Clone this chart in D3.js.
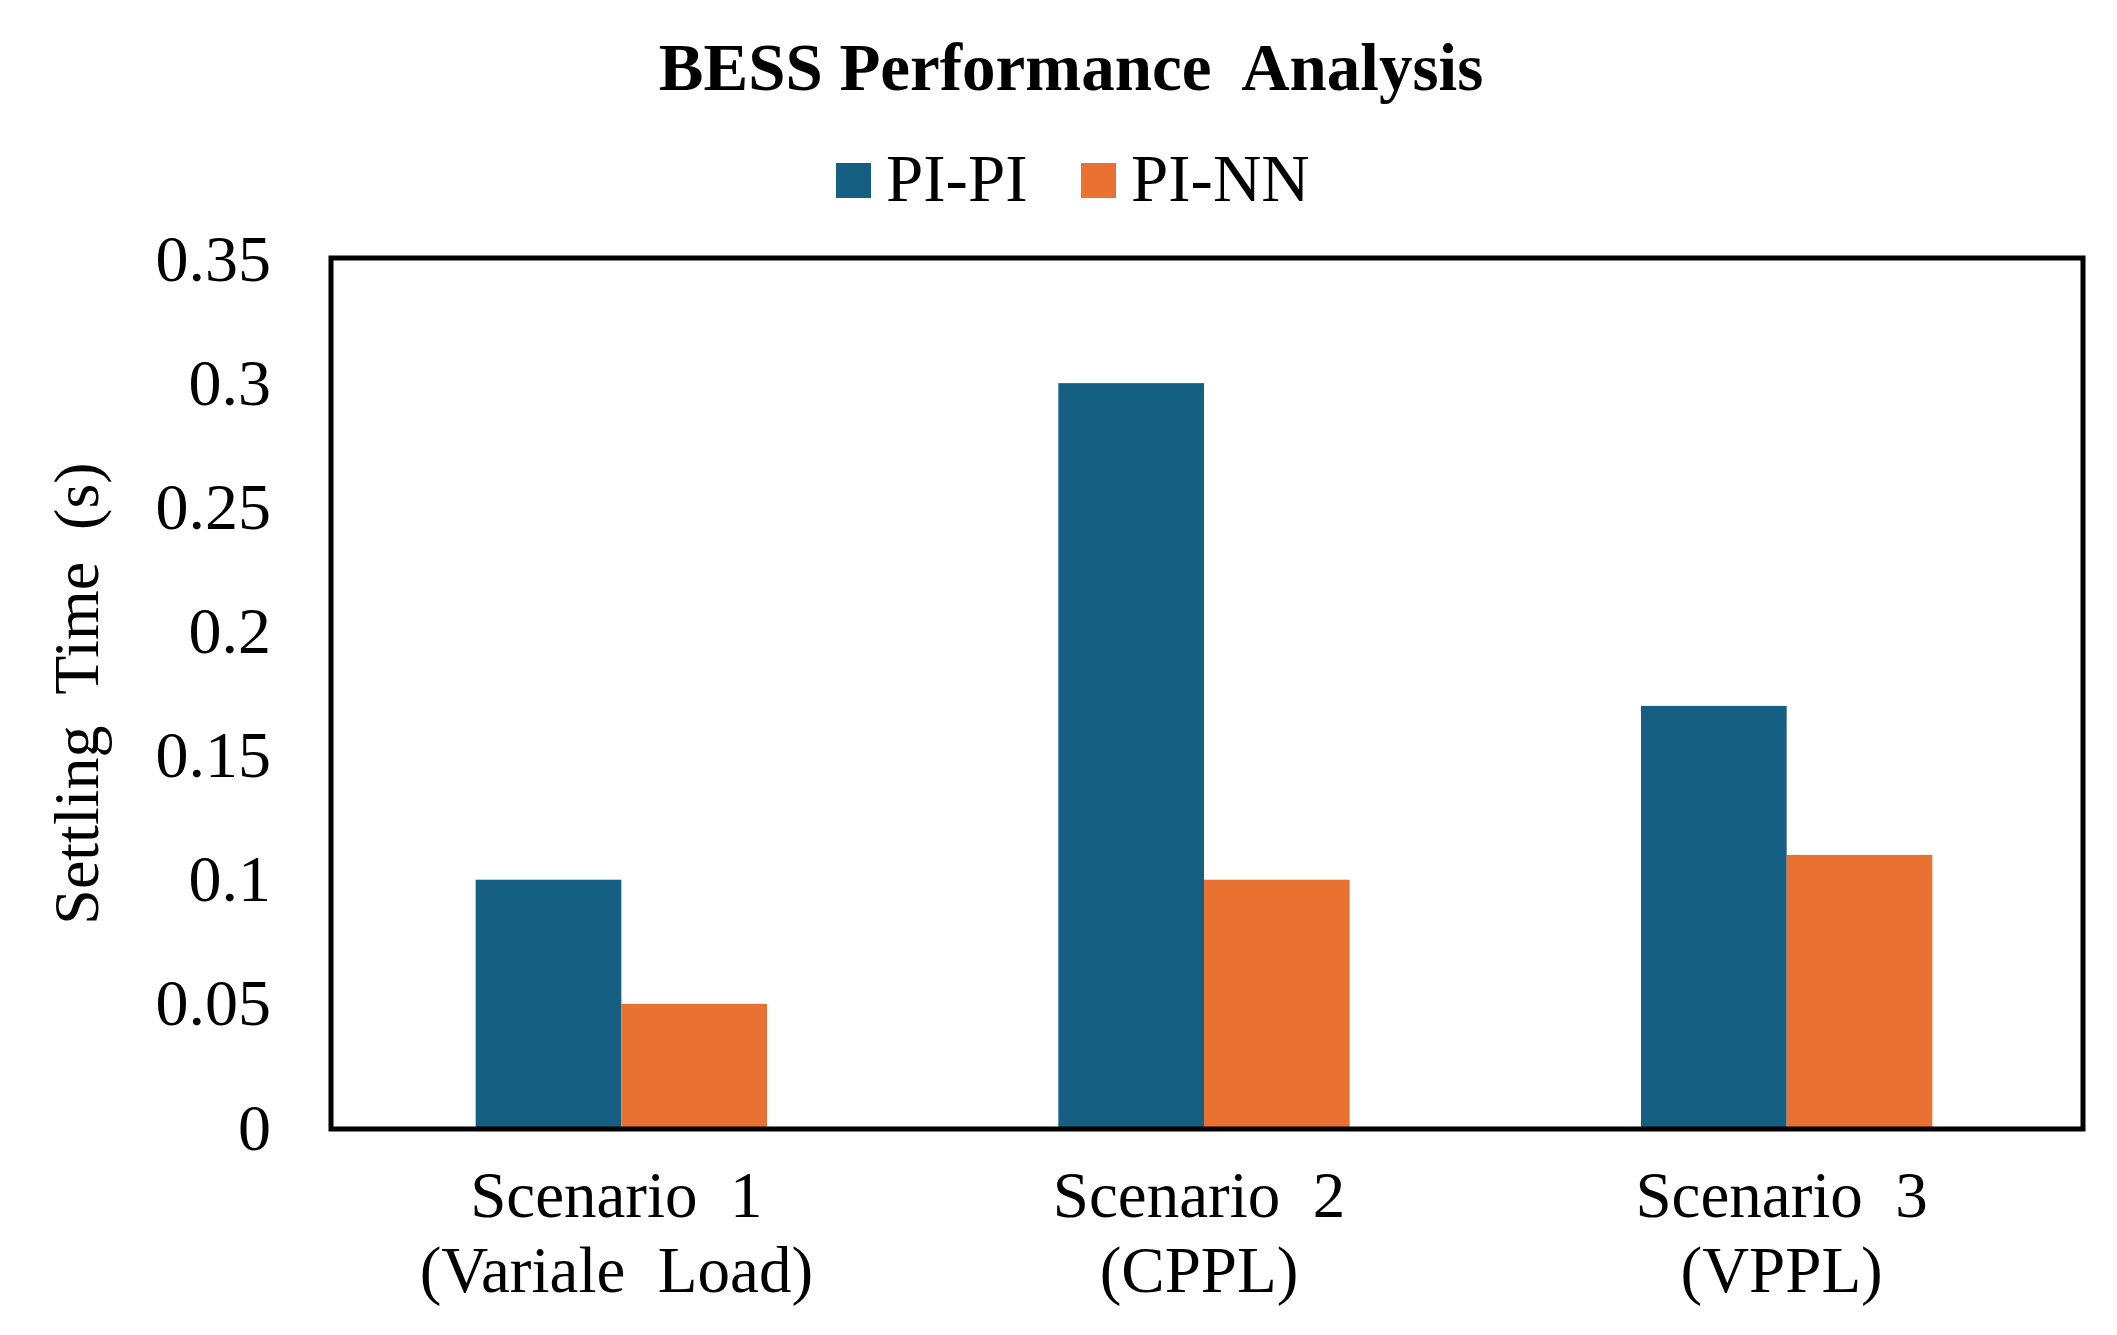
<!DOCTYPE html>
<html>
<head>
<meta charset="utf-8">
<script src="https://cdn.jsdelivr.net/npm/d3@7/dist/d3.min.js"></script>
<style>
  html, body { margin: 0; padding: 0; background: #fff; }
  svg { display: block; }
  text { font-family: "Liberation Serif", "Times New Roman", serif; fill: #000; }
</style>
</head>
<body>
<svg id="chart" width="2117" height="1335"></svg>
<script>
// ---- data ----
const categories = ["S1", "S2", "S3"];
const categoryLine1 = ["Scenario\u00A0 1", "Scenario\u00A0 2", "Scenario\u00A0 3"];
const categoryLine2 = ["(Variale\u00A0 Load)", "(CPPL)", "(VPPL)"];
const seriesNames = ["PI-PI", "PI-NN"];
const piPiValues = [0.10, 0.30, 0.17];
const piNnValues = [0.05, 0.10, 0.11];
const yTickValues = [0, 0.05, 0.1, 0.15, 0.2, 0.25, 0.3, 0.35];
const yTickLabels = ["0", "0.05", "0.1", "0.15", "0.2", "0.25", "0.3", "0.35"];
const colors = ["#156082", "#E97132"];

const titleText = "BESS Performance\u00A0 Analysis";
const yTitleText = "Settling\u00A0 Time\u00A0 (s)";

// ---- layout ----
const svg = d3.select("#chart");
const plot = { left: 331, right: 2083, top: 258, bottom: 1129 };
const inner = { left: 333, right: 2081 };

const x0 = d3.scaleBand().domain(categories)
  .range([inner.left, inner.right])
  .paddingInner(0.5).paddingOuter(0.25);
const x1 = d3.scaleBand().domain(seriesNames).range([0, x0.bandwidth()]).padding(0);
const y = d3.scaleLinear().domain([0, 0.35]).range([1128, 259]);

const series = [piPiValues, piNnValues];

// bars
const groups = svg.append("g").selectAll("g")
  .data(categories).join("g")
  .attr("transform", d => `translate(${x0(d) - 3},0)`);

groups.selectAll("rect")
  .data((d, i) => seriesNames.map((s, j) => ({ s, v: series[j][i], j })))
  .join("rect")
  .attr("x", d => x1(d.s))
  .attr("width", x1.bandwidth())
  .attr("y", d => y(d.v))
  .attr("height", d => y(0) - y(d.v))
  .attr("fill", d => colors[d.j]);

// frame
svg.append("rect")
  .attr("x", plot.left).attr("y", plot.top)
  .attr("width", plot.right - plot.left)
  .attr("height", plot.bottom - plot.top)
  .attr("fill", "none").attr("stroke", "#000").attr("stroke-width", 5);

// y axis
const yAxis = d3.axisLeft(y)
  .tickValues(yTickValues)
  .tickFormat((d, i) => yTickLabels[i])
  .tickSize(0).tickPadding(60);
const yg = svg.append("g").attr("transform", `translate(${plot.left},0)`).call(yAxis);
yg.select(".domain").remove();
yg.selectAll("text")
  .style("font-family", '"Liberation Serif", "Times New Roman", serif')
  .style("font-size", "66px").attr("fill", "#000");

// x category labels
const xl = svg.append("g");
categories.forEach((c, i) => {
  const cx = x0(c) + x0.bandwidth() / 2 - 8;
  xl.append("text").attr("x", cx).attr("y", 1217)
    .attr("text-anchor", "middle").style("font-size", "65px").text(categoryLine1[i]);
  xl.append("text").attr("x", cx).attr("y", 1292)
    .attr("text-anchor", "middle").style("font-size", "65px").text(categoryLine2[i]);
});

// y title
svg.append("text")
  .attr("transform", `translate(98, ${(plot.top + plot.bottom) / 2}) rotate(-90)`)
  .attr("text-anchor", "middle")
  .style("font-size", "64px")
  .text(yTitleText);

// title
svg.append("text")
  .attr("x", 1071).attr("y", 90)
  .attr("text-anchor", "middle")
  .style("font-size", "67px").style("font-weight", "bold")
  .text(titleText);

// legend
const legendX = [836, 1081];
seriesNames.forEach((s, i) => {
  svg.append("rect").attr("x", legendX[i]).attr("y", 163)
    .attr("width", 35).attr("height", 35).attr("fill", colors[i]);
  svg.append("text").attr("x", legendX[i] + 50).attr("y", 201)
    .style("font-size", "67px").text(s);
});
</script>
</body>
</html>
